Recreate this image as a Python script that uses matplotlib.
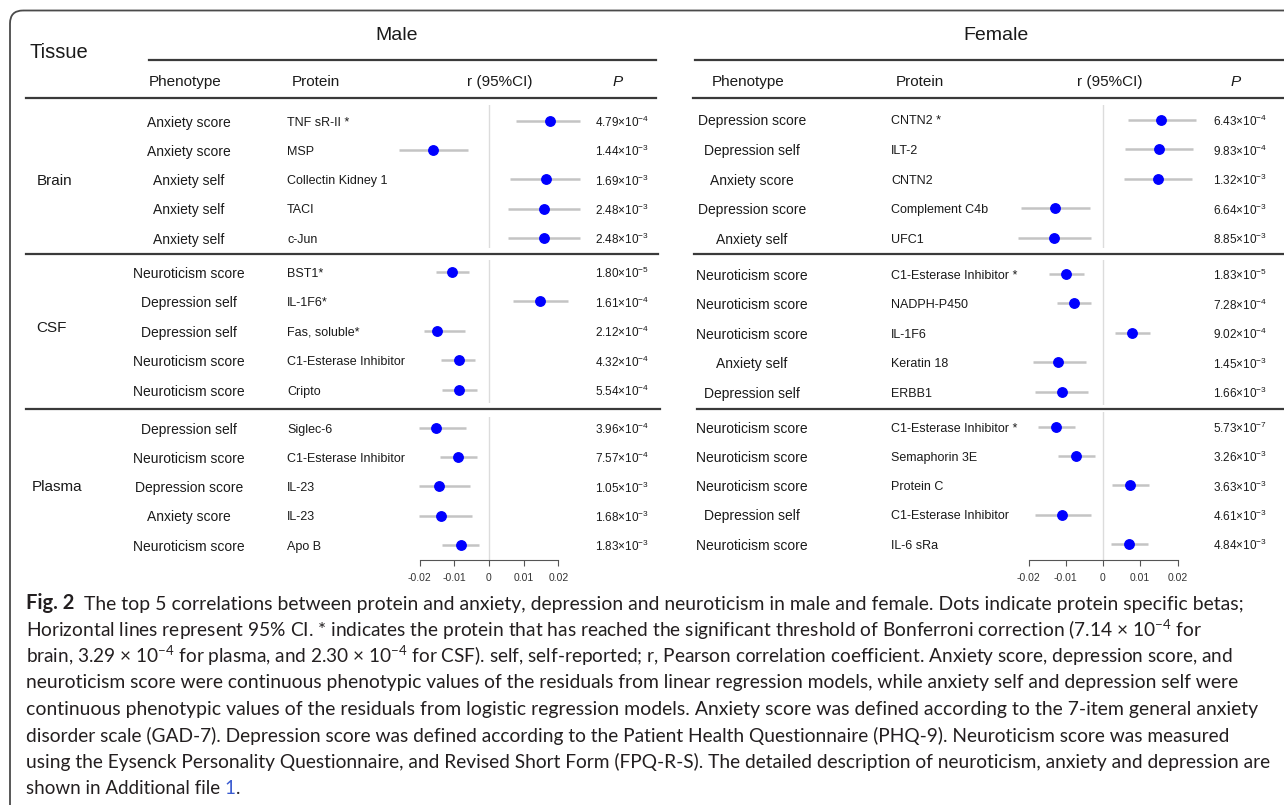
import matplotlib.pyplot as plt
from matplotlib.patches import FancyBboxPatch

W, H = 1284, 805

plt.rcParams['font.family'] = ['Liberation Sans', 'DejaVu Sans']
plt.rcParams['mathtext.fontset'] = 'custom'
plt.rcParams['mathtext.rm'] = 'Liberation Sans'
plt.rcParams['mathtext.sf'] = 'Lato'

# ---- data ----
tissues = ['Brain', 'CSF', 'Plasma']

male_phenotype = [
    ['Anxiety score', 'Anxiety score', 'Anxiety self', 'Anxiety self', 'Anxiety self'],
    ['Neuroticism score', 'Depression self', 'Depression self', 'Neuroticism score', 'Neuroticism score'],
    ['Depression self', 'Neuroticism score', 'Depression score', 'Anxiety score', 'Neuroticism score'],
]
male_protein = [
    ['TNF sR-II *', 'MSP', 'Collectin Kidney 1', 'TACI', 'c-Jun'],
    ['BST1*', 'IL-1F6*', 'Fas, soluble*', 'C1-Esterase Inhibitor', 'Cripto'],
    ['Siglec-6', 'C1-Esterase Inhibitor', 'IL-23', 'IL-23', 'Apo B'],
]
male_r = [
    [0.0176, -0.0162, 0.0165, 0.0159, 0.0159],
    [-0.0108, 0.0146, -0.0150, -0.0087, -0.0087],
    [-0.0154, -0.0090, -0.0143, -0.0137, -0.0082],
]
male_lo = [
    [0.0077, -0.0259, 0.0060, 0.0056, 0.0056],
    [-0.0154, 0.0068, -0.0188, -0.0138, -0.0135],
    [-0.0201, -0.0142, -0.0201, -0.0201, -0.0135],
]
male_hi = [
    [0.0262, -0.0060, 0.0262, 0.0262, 0.0262],
    [-0.0059, 0.0228, -0.0070, -0.0039, -0.0036],
    [-0.0067, -0.0035, -0.0056, -0.0048, -0.0029],
]
male_p = [
    ['4.79', '1.44', '1.69', '2.48', '2.48'],
    ['1.80', '1.61', '2.12', '4.32', '5.54'],
    ['3.96', '7.57', '1.05', '1.68', '1.83'],
]
male_p_exp = [
    [-4, -3, -3, -3, -3],
    [-5, -4, -4, -4, -4],
    [-4, -4, -3, -3, -3],
]

female_phenotype = [
    ['Depression score', 'Depression self', 'Anxiety score', 'Depression score', 'Anxiety self'],
    ['Neuroticism score', 'Neuroticism score', 'Neuroticism score', 'Anxiety self', 'Depression self'],
    ['Neuroticism score', 'Neuroticism score', 'Neuroticism score', 'Depression self', 'Neuroticism score'],
]
female_protein = [
    ['CNTN2 *', 'ILT-2', 'CNTN2', 'Complement C4b', 'UFC1'],
    ['C1-Esterase Inhibitor *', 'NADPH-P450', 'IL-1F6', 'Keratin 18', 'ERBB1'],
    ['C1-Esterase Inhibitor *', 'Semaphorin 3E', 'Protein C', 'C1-Esterase Inhibitor', 'IL-6 sRa'],
]
female_r = [
    [0.0157, 0.0150, 0.0147, -0.0128, -0.0132],
    [-0.0100, -0.0079, 0.0078, -0.0122, -0.0111],
    [-0.0126, -0.0073, 0.0072, -0.0110, 0.0070],
]
female_lo = [
    [0.0066, 0.0059, 0.0056, -0.0220, -0.0229],
    [-0.0146, -0.0124, 0.0032, -0.0188, -0.0183],
    [-0.0174, -0.0122, 0.0024, -0.0183, 0.0021],
]
female_hi = [
    [0.0249, 0.0242, 0.0239, -0.0036, -0.0031],
    [-0.0052, -0.0031, 0.0126, -0.0046, -0.0039],
    [-0.0074, -0.0022, 0.0124, -0.0032, 0.0120],
]
female_p = [
    ['6.43', '9.83', '1.32', '6.64', '8.85'],
    ['1.83', '7.28', '9.02', '1.45', '1.66'],
    ['5.73', '3.26', '3.63', '4.61', '4.84'],
]
female_p_exp = [
    [-4, -4, -3, -3, -3],
    [-5, -4, -4, -3, -3],
    [-7, -3, -3, -3, -3],
]

x_ticks = [-0.02, -0.01, 0, 0.01, 0.02]
x_tick_labels = ['-0.02', '-0.01', '0', '0.01', '0.02']

caption = [
    '  The top 5 correlations between protein and anxiety, depression and neuroticism in male and female. Dots indicate protein specific betas;',
    r'Horizontal lines represent 95% CI. * indicates the protein that has reached the significant threshold of Bonferroni correction (7.14 × $\mathsf{10^{-4}}$ for',
    r'brain, 3.29 × $\mathsf{10^{-4}}$ for plasma, and 2.30 × $\mathsf{10^{-4}}$ for CSF). self, self-reported; r, Pearson correlation coefficient. Anxiety score, depression score, and',
    'neuroticism score were continuous phenotypic values of the residuals from linear regression models, while anxiety self and depression self were',
    'continuous phenotypic values of the residuals from logistic regression models. Anxiety score was defined according to the 7-item general anxiety',
    'disorder scale (GAD-7). Depression score was defined according to the Patient Health Questionnaire (PHQ-9). Neuroticism score was measured',
    'using the Eysenck Personality Questionnaire, and Revised Short Form (FPQ-R-S). The detailed description of neuroticism, anxiety and depression are',
    'shown in Additional file ',
]

# ---- layout (pixels) ----
male_layout = dict(pheno_x=189, prot_x=287, p_x=622, zero=489, scale=3472, ax_l=392, ax_r=586,
                   groups=[(121, 29.25, 105, 248), (272, 29.5, 260, 403), (428, 29.25, 417, 560)])
female_layout = dict(pheno_x=752, prot_x=891, p_x=1240, zero=1103, scale=3725, ax_l=998, ax_r=1208,
                     groups=[(120, 29.5, 105, 248), (274, 29.5, 260, 405), (427, 29.25, 412, 560)])
cap_x = 26
cap_y = [603, 629.5, 656, 682.5, 709, 735.5, 762, 788.5]
cap_right = [1246, 1202, 1232, 1243, 1257, 1231, 1271]

TXT = '#1a1a1a'

fig = plt.figure(figsize=(W / 100, H / 100), dpi=100)
bg = fig.add_axes([0, 0, 1, 1])
bg.set_xlim(0, W)
bg.set_ylim(H, 0)
bg.axis('off')

bg.add_patch(FancyBboxPatch((10, 10.5), 1500, 1000, boxstyle='round,pad=0,rounding_size=13',
                            fc='none', ec='#4a4a4a', lw=1.3))


def draw_panel(lay, phenos, prots, rs, los, his, ps, exps):
    for g in range(3):
        first, step, top, bot = lay['groups'][g]
        ax = fig.add_axes([lay['ax_l'] / W, 1 - bot / H, (lay['ax_r'] - lay['ax_l']) / W, (bot - top) / H])
        ax.set_xlim((lay['ax_l'] - lay['zero']) / lay['scale'], (lay['ax_r'] - lay['zero']) / lay['scale'])
        ax.set_ylim((bot - first) / step, (top - first) / step)
        ax.patch.set_alpha(0)
        for s in ax.spines.values():
            s.set_visible(False)
        ax.axvline(0, color='#dcdcdc', lw=1, zorder=0)
        rows = list(range(len(rs[g])))
        ax.hlines(rows, los[g], his[g], color='#c4c4c4', lw=1.8, zorder=1)
        ax.plot(rs[g], rows, 'o', color='#0000ff', ms=6.8, zorder=2)
        ax.set_yticks([])
        if g == 2:
            ax.spines['bottom'].set_visible(True)
            ax.spines['bottom'].set_bounds(x_ticks[0], x_ticks[-1])
            ax.spines['bottom'].set_color('#555555')
            ax.set_xticks(x_ticks)
            ax.set_xticklabels(x_tick_labels)
            ax.tick_params(axis='x', direction='out', length=4.5, color='#555555',
                           labelsize=7.5, labelcolor='#333333', pad=5)
        else:
            ax.set_xticks([])

        for i in rows:
            y = first + i * step + 1.5
            bg.text(lay['pheno_x'], y, phenos[g][i], ha='center', va='center', fontsize=10, color=TXT)
            bg.text(lay['prot_x'], y, prots[g][i], ha='left', va='center', fontsize=9, color=TXT)
            bg.text(lay['p_x'], y, ps[g][i] + '×10$^{%d}$' % exps[g][i], ha='center', va='center',
                    fontsize=8.5, color=TXT)


draw_panel(male_layout, male_phenotype, male_protein, male_r, male_lo, male_hi, male_p, male_p_exp)
draw_panel(female_layout, female_phenotype, female_protein, female_r, female_lo, female_hi,
           female_p, female_p_exp)

# headers
bg.text(30, 53, 'Tissue', fontsize=14.5, va='center', color=TXT)
bg.text(397, 36, 'Male', fontsize=14, ha='center', va='center', color=TXT)
bg.text(996, 36, 'Female', fontsize=14, ha='center', va='center', color=TXT)
for lay, rx in [(male_layout, 500), (female_layout, 1110)]:
    bg.text(lay['pheno_x'] - 40, 82, 'Phenotype', fontsize=11, va='center', color=TXT)
    bg.text(lay['prot_x'] + 5, 82, 'Protein', fontsize=11, va='center', color=TXT)
    bg.text(rx, 82, 'r (95%CI)', fontsize=11, ha='center', va='center', color=TXT)
    bg.text(lay['p_x'] - 4, 82, 'P', fontsize=11, ha='center', va='center', style='italic', color=TXT)

rule = dict(color='#3a3a3a', lw=1.6)
bg.plot([149, 656], [60, 60], **rule)
bg.plot([695, 1284], [60, 60], **rule)
for y, (m0, m1), (f0, f1) in [(98, (26, 656), (693, 1284)), (254, (26, 658), (694, 1284)),
                              (409, (26, 660), (697, 1284))]:
    bg.plot([m0, m1], [y, y], **rule)
    bg.plot([f0, f1], [y, y], **rule)

for name, (x, y) in zip(tissues, [(37, 181), (36, 328), (32, 487)]):
    bg.text(x, y, name, fontsize=11, va='center', color=TXT)

# caption, each line sized to end where the printed line ends
cap = dict(family=['Lato', 'DejaVu Sans'], color='#231f20')
fig2 = bg.text(cap_x, cap_y[0], 'Fig. 2', fontweight='bold', va='center', fontsize=14.5, **cap)
lines = [bg.annotate(caption[0], xy=(1, 0), xycoords=fig2, va='bottom', fontsize=13.2, **cap)]
for y, line in zip(cap_y[1:], caption[1:]):
    lines.append(bg.text(cap_x, y, line, va='center', fontsize=13.5, **cap))

renderer = fig.canvas.get_renderer()
for t, right in zip(lines, cap_right):
    ext = t.get_window_extent(renderer)
    t.set_fontsize(t.get_fontsize() * (right - ext.x0) / ext.width)

one = bg.annotate('1', xy=(1, 0), xycoords=lines[-1], va='bottom', fontsize=13.5,
                  family=['Lato', 'DejaVu Sans'], color='#3a5bd0')
bg.annotate('.', xy=(1, 0), xycoords=one, va='bottom', fontsize=13.5, **cap)

fig.savefig('out.png', dpi=100)
